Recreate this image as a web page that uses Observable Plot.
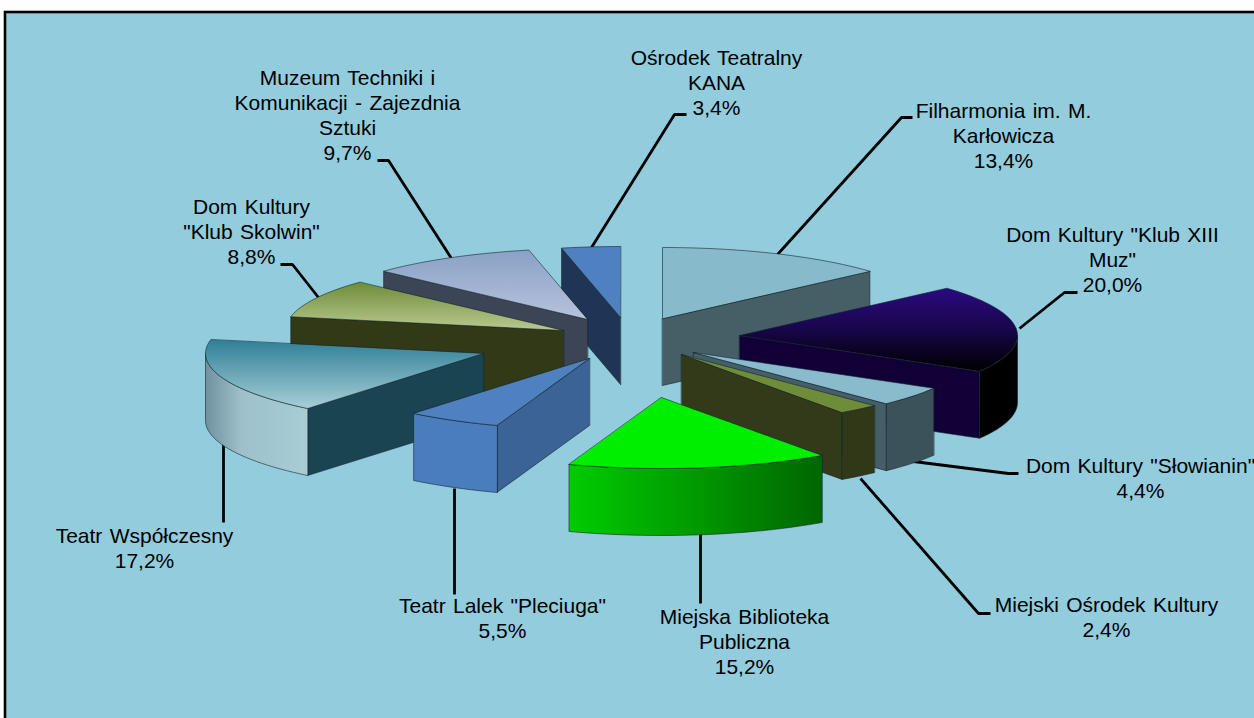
<!DOCTYPE html>
<html>
<head>
<meta charset="utf-8">
<script src="https://cdn.jsdelivr.net/npm/d3@7"></script>
<script src="https://cdn.jsdelivr.net/npm/@observablehq/plot@0.6"></script>
<style>
html,body{margin:0;padding:0;background:#fff}
svg{display:block}
</style>
</head>
<body>
<div id="chart"></div>
<script>
// --- data ---
const sliceNames = [
  "Filharmonia im. M.\nKarłowicza",
  "Dom Kultury \"Klub XIII\nMuz\"",
  "Dom Kultury \"Słowianin\"",
  "Miejski Ośrodek Kultury",
  "Miejska Biblioteka\nPubliczna",
  "Teatr Lalek \"Pleciuga\"",
  "Teatr Współczesny",
  "Dom Kultury\n\"Klub Skolwin\"",
  "Muzeum Techniki i\nKomunikacji - Zajezdnia\nSztuki",
  "Ośrodek Teatralny\nKANA"
];
const sliceValues = [13.4, 20.0, 4.4, 2.4, 15.2, 5.5, 17.2, 8.8, 9.7, 3.4];

// --- layout of the exploded 3-D pie ---
const apexX = [662, 739, 693, 681, 661, 589, 483, 563, 587, 620];
const apexY = [318, 335, 352, 354, 397, 358, 353, 330, 319, 317];
const radiusX = 278, radiusY = 71, depth = 67;

const labelX = [1003, 1112, 1140, 1106, 744, 502, 144, 251, 347, 716];
const labelY = [100, 224, 455, 594, 606, 595, 525, 196, 67, 47];

const leaderLines = [
  [[777,254],[901,117],[912,117]],
  [[1019,328],[1064,292],[1077,292]],
  [[913,461],[1008,473],[1018,473]],
  [[860,478],[978,613],[990,613]],
  [[700,533],[700,603]],
  [[454,488],[454,594]],
  [[223,442],[223,522]],
  [[318,297],[292,264],[280,264]],
  [[451,258],[388,160],[377,160]],
  [[591,247],[674,114],[686,114]]
];

const topFill = ["#87BBCC","url(#gKlub)","#89BBCC","#6F8C38","#00EE00","#4F81C1","url(#gTeatr)","url(#gSkol)","url(#gMuz)","#4F81C1"];
const radialFill = ["#465F67","#110038","#455E68","#333A1A","#009900","#3B6396","#1B4452","#313917","#3B4556","#1F3555"];
const outerFill = ["#465F67","url(#gKlubW)","#3C525A","#303818","url(#gBibW)","#4A7DBE","url(#gTeatrW)","#313917","#3B4556","#1F3555"];

const gradients = [
  {id:"gKlub", horizontal:false, stops:[[0,"#2B0A80"],[0.45,"#1A0650"],[1,"#000000"]]},
  {id:"gTeatr", horizontal:false, stops:[[0,"#2F7F97"],[1,"#A8CFD7"]]},
  {id:"gSkol", horizontal:false, stops:[[0,"#6F8C38"],[1,"#B9CA90"]]},
  {id:"gMuz", horizontal:false, stops:[[0,"#88A2C6"],[1,"#B8C2DC"]]},
  {id:"gKlubW", horizontal:true, stops:[[0,"#000000"],[1,"#000000"]]},
  {id:"gBibW", horizontal:true, stops:[[0,"#00CC00"],[1,"#006600"]]},
  {id:"gTeatrW", horizontal:true, stops:[[0,"#6F929F"],[0.35,"#9DC0CA"],[1,"#A8CDD5"]]}
];

// --- geometry from the values ---
const total = d3.sum(sliceValues);
const cum = d3.cumsum(sliceValues);
const startDeg = sliceValues.map((v,i)=> (cum[i]-v)/total*360);
const endDeg = sliceValues.map((v,i)=> cum[i]/total*360);

function rim(i, deg, dz=0){
  const t = deg*Math.PI/180;
  return {x: apexX[i]+radiusX*Math.sin(t), y: apexY[i]-radiusY*Math.cos(t)+dz};
}
function arc(i, a, b, dz=0){
  const n = Math.max(2, Math.ceil(Math.abs(b-a)/2));
  return d3.range(n+1).map(k=>rim(i, a+(b-a)*k/n, dz));
}
function faces(i){
  const a=startDeg[i], b=endDeg[i], apex={x:apexX[i],y:apexY[i]}, low={x:apexX[i],y:apexY[i]+depth};
  const out=[];
  if(b<=180){ out.push({fill:radialFill[i], pts:[apex,rim(i,b),rim(i,b,depth),low]}); }
  if(a>=180){ out.push({fill:radialFill[i], pts:[apex,rim(i,a),rim(i,a,depth),low]}); }
  const oa=Math.max(a,90), ob=Math.min(b,270);
  if(ob>oa){ out.push({fill:outerFill[i], pts:[...arc(i,oa,ob),...arc(i,ob,oa,depth)]}); }
  out.push({fill:topFill[i], pts:[apex,...arc(i,a,b)]});
  return out;
}
const drawOrder = d3.range(sliceValues.length).sort((p,q)=>apexY[p]-apexY[q]);
const allFaces = drawOrder.flatMap(faces);

const labelRows = sliceNames.map((n,i)=>({
  x:labelX[i], y:labelY[i],
  text:n+"\n"+sliceValues[i].toFixed(1).replace(".",",")+"%"
}));

function defsMark(){
  const d = d3.create("svg:defs");
  for(const g of gradients){
    const lg = d.append("linearGradient").attr("id",g.id)
      .attr("x1",0).attr("y1",0).attr("x2",g.horizontal?1:0).attr("y2",g.horizontal?0:1);
    for(const [o,c] of g.stops) lg.append("stop").attr("offset",o).attr("stop-color",c);
  }
  return d.node();
}

const chart = Plot.plot({
  width:1254, height:718, margin:0,
  style:{background:"#fff", wordSpacing:"1.5px"},
  x:{domain:[0,1254],range:[0,1254],axis:null},
  y:{domain:[0,718],range:[0,718],axis:null},
  marks:[
    defsMark,
    Plot.rect([{}],{x1:()=>5,x2:()=>1270,y1:()=>12,y2:()=>730,fill:"#92CCDD",stroke:"#000",strokeWidth:2.6}),
    ...leaderLines.map(l=>Plot.line(l.map(([x,y])=>({x,y})),{x:"x",y:"y",stroke:"#000",strokeWidth:2.8,strokeLinejoin:"miter",strokeLinecap:"butt"})),
    ...allFaces.map(f=>Plot.line(f.pts,{x:"x",y:"y",fill:f.fill,stroke:"#14252c",strokeWidth:0.7,strokeOpacity:0.85,curve:"linear-closed"})),
    Plot.text(labelRows,{x:"x",y:"y",text:"text",textAnchor:"middle",lineAnchor:"top",fontFamily:"Liberation Sans",fontSize:21,lineHeight:1.19,fill:"#000"})
  ]
});
document.getElementById("chart").append(chart);
</script>
</body>
</html>
